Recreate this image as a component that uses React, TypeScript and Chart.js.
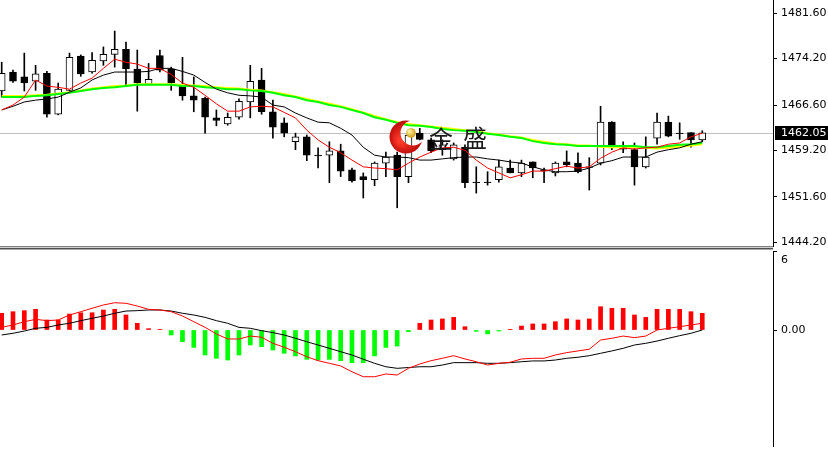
import React, { useEffect, useRef } from 'react';
import { Chart, registerables } from 'chart.js';

Chart.register(...registerables);

// ---- price data (one entry per candle) ----
const opens = [1468.9,1472.0,1471.2,1470.5,1471.8,1465.1,1469.0,1474.6,1472.0,1473.8,
  1474.9,1475.7,1472.5,1470.0,1474.7,1472.5,1469.7,1468.1,1467.7,1464.5,
  1463.5,1464.6,1467.1,1470.7,1465.5,1463.7,1460.6,1461.4,1458.4,1458.4,
  1459.1,1456.0,1454.9,1454.4,1457.1,1458.4,1454.9,1462.0,1460.9,1459.3,
  1457.8,1459.7,1454.0,1454.0,1454.4,1456.3,1455.5,1457.3,1456.0,1455.5,
  1457.3,1457.1,1456.5,1457.1,1463.8,1459.7,1459.3,1456.5,1461.2,1463.8,
  1462.0,1462.1,1460.9];
const highs = [1473.6,1472.3,1475.1,1473.1,1472.1,1470.2,1475.1,1474.8,1475.2,1476.1,
  1478.7,1476.9,1475.6,1473.4,1475.6,1472.8,1474.4,1471.2,1467.9,1465.8,
  1465.3,1467.6,1473.1,1472.6,1467.4,1464.5,1462.0,1461.7,1459.6,1460.6,
  1460.2,1456.3,1455.5,1457.3,1458.9,1458.9,1462.2,1462.8,1461.2,1460.9,
  1460.4,1460.1,1456.5,1455.7,1457.6,1457.6,1457.6,1457.3,1456.3,1457.3,
  1459.1,1458.8,1458.0,1466.4,1463.9,1460.6,1460.4,1461.4,1465.3,1464.8,
  1463.7,1462.1,1462.4];
const lows = [1467.9,1470.3,1468.9,1469.0,1464.6,1465.0,1468.7,1471.3,1471.8,1473.1,
  1472.8,1469.9,1465.6,1469.9,1472.0,1469.0,1467.4,1465.5,1462.0,1463.2,
  1463.3,1464.3,1464.5,1465.1,1461.2,1461.4,1459.3,1457.5,1456.3,1453.9,
  1454.9,1454.0,1451.4,1453.4,1454.9,1449.8,1453.9,1460.9,1458.8,1458.4,
  1457.6,1453.1,1452.2,1453.5,1454.0,1455.5,1454.9,1454.7,1453.9,1455.0,
  1456.5,1455.5,1452.7,1456.8,1459.3,1458.8,1453.5,1456.3,1460.2,1461.4,
  1461.0,1459.7,1460.6];
const closes = [1471.8,1470.5,1470.2,1471.7,1465.1,1469.2,1474.4,1471.7,1473.9,1474.9,
  1475.7,1472.5,1470.2,1470.8,1472.3,1470.2,1468.1,1467.4,1464.6,1464.1,
  1464.6,1467.2,1470.5,1465.5,1463.0,1462.0,1461.4,1458.4,1458.3,1459.1,
  1455.8,1454.2,1454.4,1457.1,1458.1,1454.9,1461.7,1461.0,1459.1,1460.1,
  1460.1,1453.9,1453.9,1453.9,1456.5,1455.5,1457.1,1456.3,1455.8,1457.1,
  1456.8,1455.7,1456.4,1463.8,1459.6,1459.4,1456.5,1458.1,1463.8,1461.5,
  1461.9,1460.9,1462.05];

// ---- moving averages ----
const maRed = [1465.8,1466.6,1467.9,1470.7,1469.7,1469.5,1469.2,1470.2,1471.0,1472.6,
  1474.1,1473.6,1473.3,1472.6,1472.6,1471.6,1470.2,1469.5,1468.2,1466.8,
  1465.6,1465.6,1466.3,1466.4,1466.3,1465.4,1464.5,1462.5,1460.9,1459.7,
  1458.8,1457.6,1456.5,1456.3,1456.2,1456.0,1457.1,1458.1,1458.9,1459.6,
  1459.7,1459.2,1457.6,1456.3,1455.5,1454.7,1455.2,1455.8,1455.8,1456.2,
  1456.6,1456.3,1456.5,1457.9,1458.9,1459.6,1459.4,1459.6,1459.7,1460.2,
  1460.4,1461.4,1462.0];
const maBlack = [1465.8,1466.4,1467.1,1467.4,1467.6,1467.9,1468.7,1469.4,1470.7,1471.5,
  1472.0,1472.0,1472.0,1472.1,1472.6,1472.6,1472.1,1471.5,1470.3,1469.2,
  1468.6,1468.2,1468.1,1467.9,1466.6,1466.3,1465.3,1464.5,1463.8,1463.7,
  1462.8,1461.7,1459.7,1458.4,1458.1,1458.1,1458.0,1457.6,1457.6,1457.8,
  1458.0,1458.1,1458.1,1457.8,1457.6,1457.3,1457.1,1456.5,1456.0,1455.7,
  1455.7,1455.8,1456.3,1457.1,1457.5,1458.1,1458.1,1458.1,1458.9,1459.3,
  1459.6,1460.2,1460.6];
const maGreen = [1467.9,1467.9,1467.9,1468.1,1468.2,1468.4,1468.6,1468.9,1469.2,1469.4,
  1469.5,1469.7,1469.9,1469.9,1469.9,1469.9,1469.7,1469.7,1469.5,1469.4,
  1469.2,1469.2,1469.0,1468.9,1468.6,1468.2,1467.9,1467.4,1467.1,1466.6,
  1466.3,1465.8,1465.3,1464.6,1464.2,1463.7,1463.3,1463.2,1463.0,1462.7,
  1462.5,1462.4,1462.2,1461.9,1461.7,1461.4,1461.2,1460.7,1460.4,1460.2,
  1460.1,1459.9,1459.9,1459.9,1459.9,1459.9,1459.9,1459.7,1459.7,1459.9,
  1460.1,1460.2,1460.4];
const maYellow = [1468.1,1468.1,1468.1,1468.2,1468.3,1468.5,1468.7,1469.0,1469.3,1469.5,
  1469.7,1469.8,1470.0,1470.0,1470.0,1470.0,1469.9,1469.8,1469.7,1469.5,
  1469.4,1469.3,1469.1,1469.0,1468.7,1468.4,1468.0,1467.6,1467.2,1466.8,
  1466.4,1465.9,1465.4,1464.8,1464.3,1463.8,1463.5,1463.3,1463.1,1462.9,
  1462.7,1462.5,1462.3,1462.0,1461.8,1461.5,1461.3,1460.9,1460.6,1460.3,
  1460.2,1460.0,1460.0,1459.8,1459.7,1459.7,1459.7,1459.6,1459.5,1459.6,
  1459.8,1460.0,1460.2];

const priceTicks = [1481.6, 1474.2, 1466.6, 1459.2, 1451.6, 1444.2];
const lastPrice = 1462.05;
const watermarkChars = ['金', '盛'];

// ---- MACD ----
const macdHist = [1.27,1.39,1.47,1.57,0.76,0.76,1.21,1.31,1.31,1.52,
  1.57,1.14,0.51,0.1,0.05,-0.38,-0.89,-1.32,-1.9,-2.15,
  -2.28,-1.9,-1.14,-1.27,-1.52,-1.77,-1.97,-2.23,-2.28,-2.23,
  -2.33,-2.48,-2.48,-1.97,-1.32,-1.22,-0.13,0.51,0.76,0.84,
  0.96,0.25,-0.1,-0.3,-0.08,0.05,0.3,0.46,0.46,0.63,
  0.84,0.76,0.84,1.77,1.65,1.65,1.14,0.96,1.57,1.57,
  1.57,1.39,1.27];
const macdDif = [0.2,0.38,0.63,0.81,0.71,0.76,1.14,1.39,1.65,1.9,
  2.07,2.03,1.82,1.57,1.52,1.39,1.06,0.63,0.2,-0.3,
  -0.68,-0.68,-0.46,-0.55,-1.01,-1.31,-1.65,-2.03,-2.33,-2.53,
  -2.73,-3.17,-3.55,-3.55,-3.34,-3.42,-2.91,-2.58,-2.33,-2.15,
  -1.95,-2.2,-2.41,-2.66,-2.53,-2.45,-2.2,-2.15,-2.15,-1.9,
  -1.72,-1.59,-1.46,-0.76,-0.63,-0.46,-0.58,-0.46,0,0.13,
  0.25,0.38,0.51];
const macdDea = [-0.38,-0.25,-0.08,0.13,0.2,0.38,0.51,0.71,0.89,1.06,
  1.27,1.44,1.47,1.52,1.52,1.44,1.27,1.14,0.96,0.71,
  0.51,0.2,0.13,-0.05,-0.2,-0.38,-0.63,-0.89,-1.14,-1.39,
  -1.65,-1.9,-2.22,-2.53,-2.79,-2.91,-2.85,-2.79,-2.79,-2.66,
  -2.48,-2.48,-2.48,-2.53,-2.53,-2.48,-2.41,-2.35,-2.35,-2.28,
  -2.15,-2.07,-1.95,-1.77,-1.59,-1.39,-1.14,-1.01,-0.84,-0.63,
  -0.43,-0.25,0];
const macdTicks = [6, 0];

const X_MIN = -0.15;
const X_MAX = 68.26;
const PRICE_MIN = 1443.55;
const PRICE_MAX = 1483.78;
const MACD_MIN = -8.81;
const MACD_MAX = 6;
const AXIS_W = 55;
const FONT = '11px "DejaVu Sans", Tahoma, sans-serif';

export default function App() {
  const mainRef = useRef<HTMLCanvasElement>(null);
  const macdRef = useRef<HTMLCanvasElement>(null);

  useEffect(() => {
    document.body.style.margin = '0';
    const idx = closes.map((_, i) => i);
    const bodyColors = closes.map((c, i) => (c >= opens[i] ? '#ffffff' : '#000000'));

    const xScale: any = { type: 'linear', display: false, min: X_MIN, max: X_MAX, offset: false, grid: { display: false } };

    const lineDs = (vals: number[], color: string, width: number, order: number) => ({
      type: 'line' as const,
      data: idx.map((i) => ({ x: i, y: vals[i] })),
      borderColor: color,
      borderWidth: width,
      pointRadius: 0,
      tension: 0,
      fill: false,
      order,
    });

    const mainDecor = {
      id: 'mainDecor',
      beforeDatasetsDraw(chart: any) {
        const { ctx, chartArea } = chart;
        const py = Math.round(chart.scales.y.getPixelForValue(lastPrice)) + 0.5;
        ctx.save();
        ctx.strokeStyle = '#c0c0c0';
        ctx.lineWidth = 1;
        ctx.beginPath();
        ctx.moveTo(chartArea.left, py);
        ctx.lineTo(chartArea.right, py);
        ctx.stroke();
        ctx.restore();
      },
      afterDatasetsDraw(chart: any) {
        const ctx = chart.ctx;
        ctx.save();
        // watermark logo
        const off = document.createElement('canvas');
        off.width = 40; off.height = 40;
        const o = off.getContext('2d')!;
        const g = o.createRadialGradient(12, 24, 2, 18, 20, 18);
        g.addColorStop(0, '#ff3a2a');
        g.addColorStop(1, '#b80808');
        o.fillStyle = g;
        o.beginPath(); o.arc(18, 20, 16.5, 0, Math.PI * 2); o.fill();
        o.globalCompositeOperation = 'destination-out';
        o.beginPath(); o.arc(25, 16, 12.5, 0, Math.PI * 2); o.fill();
        ctx.drawImage(off, 406 - 18, 137 - 20);
        const bg = ctx.createRadialGradient(409, 131, 1, 411, 133, 5);
        bg.addColorStop(0, '#fff2a0');
        bg.addColorStop(1, '#c99a10');
        ctx.fillStyle = bg;
        ctx.beginPath(); ctx.arc(411, 133, 4.8, 0, Math.PI * 2); ctx.fill();
        ctx.font = '24px "Noto Sans CJK SC"';
        ctx.fillStyle = '#1a1a1a';
        ctx.textBaseline = 'middle';
        ctx.textAlign = 'left';
        ctx.fillText(watermarkChars[0], 429, 139);
        ctx.fillText(watermarkChars[1], 463, 138);
        ctx.restore();
      },
      afterDraw(chart: any) {
        const { ctx, chartArea } = chart;
        const ys = chart.scales.y;
        ctx.save();
        ctx.font = FONT;
        ctx.textAlign = 'left';
        ctx.textBaseline = 'middle';
        ctx.fillStyle = '#000';
        priceTicks.forEach((v) => ctx.fillText(v.toFixed(2), chartArea.right + 8, ys.getPixelForValue(v)));
        const py = Math.round(ys.getPixelForValue(lastPrice));
        ctx.fillStyle = '#000';
        ctx.fillRect(chartArea.right + 2, py - 7, chart.width - chartArea.right - 2, 14);
        ctx.fillStyle = '#fff';
        ctx.fillText(lastPrice.toFixed(2), chartArea.right + 8, py);
        // panel separator
        const w = chartArea.right;
        ctx.fillStyle = '#808080'; ctx.fillRect(0, 246, w, 1);
        ctx.fillStyle = '#d0d0d0'; ctx.fillRect(0, 247, w, 1);
        ctx.fillStyle = '#505050'; ctx.fillRect(0, 248, w, 1);
        ctx.fillStyle = '#a8a8a8'; ctx.fillRect(0, 249, w, 1);
        ctx.restore();
      },
    };

    const main = new Chart(mainRef.current!, {
      type: 'bar',
      data: {
        datasets: [
          {
            type: 'bar',
            data: idx.map((i) => ({ x: i, y: [lows[i], highs[i]] })),
            backgroundColor: '#000000',
            borderWidth: 0,
            barThickness: 1,
            grouped: false,
            order: 10,
          } as any,
          {
            type: 'bar',
            data: idx.map((i) => ({ x: i, y: [opens[i], closes[i]] })),
            backgroundColor: bodyColors,
            borderColor: '#000000',
            borderWidth: 1,
            borderSkipped: false,
            barThickness: 7,
            grouped: false,
            order: 9,
          } as any,
          lineDs(maYellow, '#ffff00', 2, 4),
          lineDs(maGreen, '#00ff00', 2, 3),
          lineDs(maBlack, '#000000', 1, 2),
          lineDs(maRed, '#ff0000', 1, 1),
        ] as any,
      },
      options: {
        animation: false,
        responsive: false,
        devicePixelRatio: 1,
        events: [],
        layout: { padding: { top: 0, bottom: 4, left: 0, right: 0 } },
        plugins: { legend: { display: false }, tooltip: { enabled: false } },
        scales: {
          x: xScale,
          y: {
            type: 'linear',
            position: 'right',
            min: PRICE_MIN,
            max: PRICE_MAX,
            afterBuildTicks: (s: any) => { s.ticks = priceTicks.map((v) => ({ value: v })); },
            afterFit: (s: any) => { s.width = AXIS_W; },
            ticks: { display: false },
            grid: { display: true, drawOnChartArea: false, drawTicks: true, tickLength: 4, color: '#000' },
            border: { display: true, color: '#000', width: 1 },
          } as any,
        },
      },
      plugins: [mainDecor],
    } as any);

    const macdDecor = {
      id: 'macdDecor',
      afterDraw(chart: any) {
        const { ctx, chartArea } = chart;
        const ys = chart.scales.y;
        ctx.save();
        ctx.font = FONT;
        ctx.textAlign = 'left';
        ctx.textBaseline = 'middle';
        ctx.fillStyle = '#000';
        macdTicks.forEach((v) => {
          const p = ys.getPixelForValue(v);
          const label = v === 0 ? v.toFixed(2) : String(v);
          ctx.fillText(label, chartArea.right + 8, v === MACD_MAX ? p + 9 : p + 0.5);
        });
        ctx.restore();
      },
    };

    const macd = new Chart(macdRef.current!, {
      type: 'bar',
      data: {
        datasets: [
          {
            type: 'bar',
            data: idx.map((i) => ({ x: i, y: macdHist[i] })),
            backgroundColor: macdHist.map((v) => (v >= 0 ? '#ff0000' : '#00ff00')),
            borderWidth: 0,
            barThickness: 4,
            grouped: false,
            order: 5,
          } as any,
          lineDs(macdDea, '#000000', 1, 2),
          lineDs(macdDif, '#ff0000', 1, 1),
        ] as any,
      },
      options: {
        animation: false,
        responsive: false,
        devicePixelRatio: 1,
        events: [],
        layout: { padding: { top: 1, bottom: 5, left: 0, right: 0 } },
        plugins: { legend: { display: false }, tooltip: { enabled: false } },
        scales: {
          x: xScale,
          y: {
            type: 'linear',
            position: 'right',
            min: MACD_MIN,
            max: MACD_MAX,
            afterBuildTicks: (s: any) => { s.ticks = macdTicks.map((v) => ({ value: v })); },
            afterFit: (s: any) => { s.width = AXIS_W; },
            ticks: { display: false },
            grid: { display: true, drawOnChartArea: false, drawTicks: true, tickLength: 4, color: '#000' },
            border: { display: true, color: '#000', width: 1 },
          } as any,
        },
      },
      plugins: [macdDecor],
    } as any);

    return () => {
      main.destroy();
      macd.destroy();
    };
  }, []);

  return (
    <div style={{ position: 'relative', width: 828, height: 451, background: '#ffffff', overflow: 'hidden' }}>
      <canvas ref={mainRef} width={828} height={250} style={{ position: 'absolute', left: 0, top: 0, width: 828, height: 250 }} />
      <canvas ref={macdRef} width={828} height={201} style={{ position: 'absolute', left: 0, top: 250, width: 828, height: 201 }} />
    </div>
  );
}
